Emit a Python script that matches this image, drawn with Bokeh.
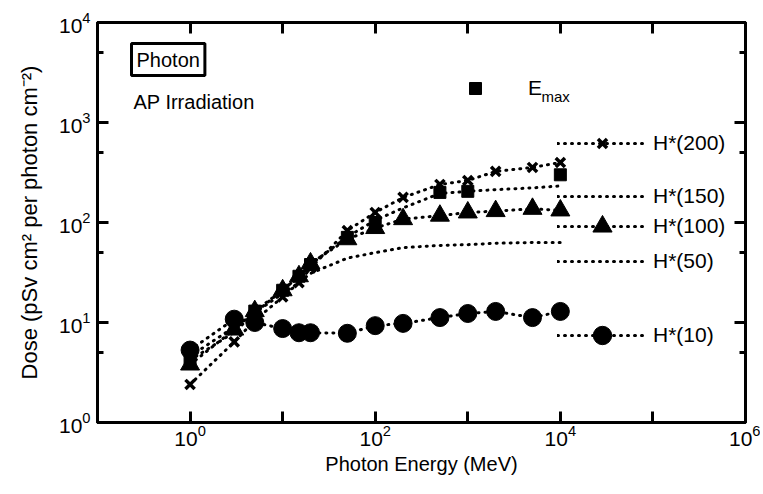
from bokeh.plotting import figure
from bokeh.models import (Range1d, FixedTicker, LogAxis, Legend, LegendItem,
                          Label, CustomJSTickFormatter)
from bokeh.embed import file_html
from bokeh.resources import INLINE

# ---------------- data ----------------
energy = [1, 3, 5, 10, 15, 20, 50, 100, 200, 500, 1000, 2000, 5000, 10000]
h200 = [2.4, 6.4, 10.5, 18, 25, 35, 83, 126, 178, 240, 263, 324, 355, 398]
h150 = [4.2, 8.0, 12.5, 21, 29, 38, 72, 105, 140, 195, 205, 213, 222, 232]
h100 = [3.8, 8.5, 13, 21, 29, 39, 68, 88, 108, 117, 126, 130, 137, 132]
h50 = [4.6, 9.0, 12.5, 19.5, 25, 31, 44, 50, 56, 59, 60, 62, 63, 63]
h10 = [5.3, 10.8, 10.0, 8.7, 7.9, 7.9, 7.8, 9.3, 9.8, 11.2, 12.3, 12.9, 11.2, 12.9]
emax_energy = [1, 5, 10, 15, 20, 50, 100, 500, 1000, 10000]
emax = [4.4, 13, 21, 29, 38, 71, 100, 200, 205, 300]

x_major = [1, 1e2, 1e4, 1e6]
x_minor = [0.1, 10, 1e3, 1e5]
y_major = [1, 10, 100, 1000, 10000]
y_minor = [5, 50, 500, 5000]

FONT = "Liberation Sans"
FS = "20px"

# ---------------- layout ----------------
W, H = 760, 490
BL, BR, BT, BB = 97, 15, 22, 68
FW = W - BL - BR
FH = H - BT - BB
PAGE_L = BL           # frame left on page
PAGE_B = BT + FH      # frame bottom on page


def ex(px):
    """page x pixel -> data x (annotation placement only)"""
    return 10 ** (-1 + (px - PAGE_L) * 7.0 / FW)


def dy(py):
    """page y pixel -> data y (annotation placement only)"""
    return 10 ** ((PAGE_B - py) * 4.0 / FH)


p = figure(width=W, height=H, x_axis_type="log", y_axis_type="log",
           x_range=Range1d(0.1, 1e6), y_range=Range1d(1, 1e4),
           output_backend="svg", toolbar_location=None,
           min_border_left=BL, min_border_right=BR,
           min_border_top=BT, min_border_bottom=BB)
p.xgrid.visible = False
p.ygrid.visible = False
p.outline_line_color = "black"
p.outline_line_width = 3
p.background_fill_color = "white"


def style_axis(ax, ticks, minor, minor_len, labels=True):
    ax.ticker = FixedTicker(ticks=ticks, minor_ticks=minor)
    ax.axis_line_width = 3
    ax.axis_line_color = "black"
    ax.major_tick_line_width = 3
    ax.minor_tick_line_width = 3
    ax.major_tick_in = 11
    ax.major_tick_out = 0
    ax.minor_tick_in = minor_len
    ax.minor_tick_out = 0
    ax.major_label_text_font = FONT
    ax.major_label_text_font_size = "21px"
    ax.major_label_text_color = "black"
    ax.axis_label_text_font = FONT
    ax.axis_label_text_font_size = FS
    ax.axis_label_text_font_style = "normal"
    ax.axis_label_text_color = "black"
    if not labels:
        ax.formatter = CustomJSTickFormatter(code="return ''")


xa = p.xaxis[0]
style_axis(xa, x_major, x_minor, 11)
xa.axis_label = "Photon Energy (MeV)"
xa.major_label_standoff = 2
xa.axis_label_standoff = 4

ya = p.yaxis[0]
style_axis(ya, y_major, y_minor, 6)
ya.axis_label = "Dose (pSv cm\u00b2 per photon cm\u207b\u00b2)"
ya.axis_label_text_font_size = "22px"
ya.major_label_standoff = 7
ya.axis_label_standoff = 14

top = LogAxis()
style_axis(top, x_major, x_minor, 11, labels=False)
p.add_layout(top, "above")
right = LogAxis()
style_axis(right, y_major, y_minor, 6, labels=False)
p.add_layout(right, "right")

# ---------------- series ----------------
DOT = dict(line_dash="1 6", line_width=3, line_cap="round", line_color="black")

r200 = p.line(energy, h200, **DOT)
m200 = p.scatter(energy, h200, marker="x", size=13, line_width=3.5, line_color="black")
r150 = p.line(energy, h150, **DOT)
r100 = p.line(energy, h100, **DOT)
m100 = p.scatter(energy, h100, marker="triangle", size=19, fill_color="black", line_color="black")
r50 = p.line(energy, h50, **DOT)
r10 = p.line(energy, h10, **DOT)
m10 = p.scatter(energy, h10, marker="circle", size=18, fill_color="black", line_color="black")
mem = p.scatter(emax_energy, emax, marker="square", size=12, fill_color="black", line_color="black")


# ---------------- keys (legends) ----------------
def add_key(renderers, label, vx, vy, gw, gh, standoff=6, size="21px"):
    leg = Legend(items=[LegendItem(label=label, renderers=renderers)],
                 location=(vx, vy), glyph_width=gw, glyph_height=gh,
                 label_standoff=standoff, padding=0, margin=0, spacing=0,
                 border_line_color=None, background_fill_alpha=0,
                 label_text_font=FONT, label_text_font_size=size,
                 label_text_color="black", label_height=10, label_width=10)
    p.add_layout(leg)


KX = 557 - PAGE_L
add_key([r200, m200], "H*(200)", KX, (PAGE_B - 143) - 16, 90, 32)
add_key([r150], "H*(150)", KX, (PAGE_B - 196) - 16, 90, 32)
add_key([r100, m100], "H*(100)", KX, (PAGE_B - 226) - 24, 90, 48)
add_key([r50], "H*(50)", KX, (PAGE_B - 261) - 16, 90, 32)
add_key([r10, m10], "H*(10)", KX, (PAGE_B - 335) - 23, 90, 46)
add_key([mem], "E", 460 - PAGE_L, (PAGE_B - 88) - 15, 30, 30, standoff=38)

p.add_layout(Label(x=ex(541), y=dy(96), text="max", text_font=FONT,
                   text_font_size="15px", text_baseline="middle", text_align="left",
                   text_color="black"))

p.add_layout(Label(x=ex(131), y=dy(43), text="Photon", text_font=FONT,
                   text_font_size=FS, text_baseline="top", text_align="left",
                   text_color="black", padding=5, border_line_color="black",
                   border_line_width=3, background_fill_color="white"))
p.add_layout(Label(x=ex(133), y=dy(101), text="AP Irradiation", text_font=FONT,
                   text_font_size=FS, text_baseline="middle", text_align="left",
                   text_color="black"))

open("out.html", "w").write(file_html(p, INLINE))
